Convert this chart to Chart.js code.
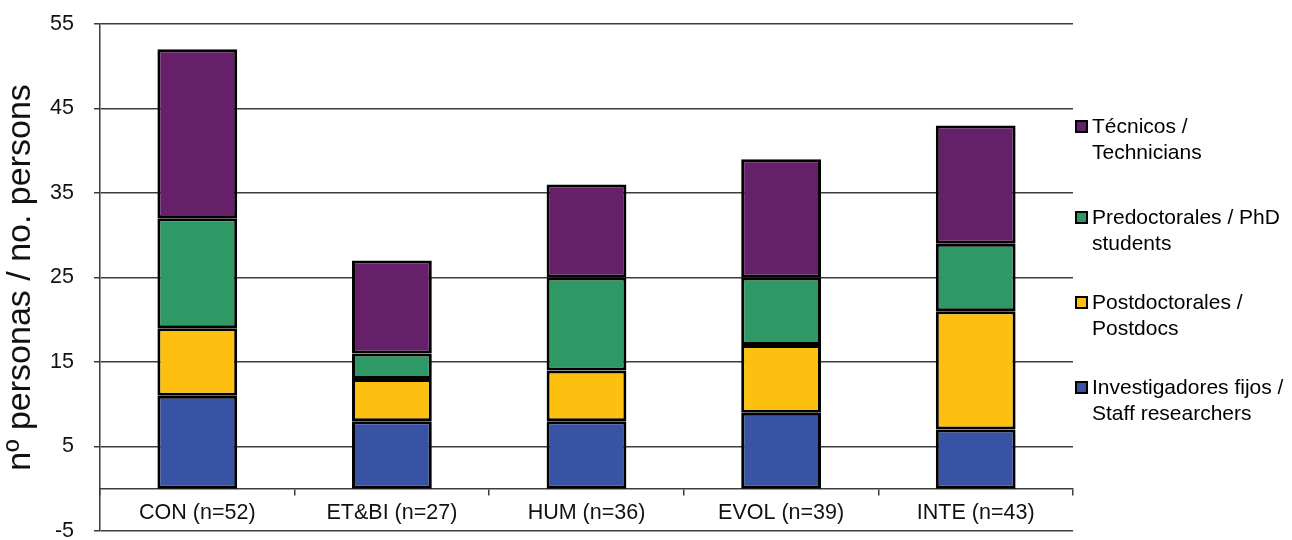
<!DOCTYPE html>
<html>
<head>
<meta charset="utf-8">
<script src="https://cdn.jsdelivr.net/npm/chart.js@4"></script>
<style>
  body { margin: 0; background: #fff; }
  #chartRoot { position: relative; width: 1292px; height: 540px; }
  #legend { position: absolute; left: 1075px; top: 0; font-family: "Liberation Sans", Arial, sans-serif; font-size: 21px; color: #000; }
  .item { position: absolute; left: 0; width: 217px; line-height: 26px; white-space: nowrap; }
  .box { position: absolute; left: 0; top: 7px; width: 9px; height: 9px; border: 2px solid #000; }
  .txt { position: absolute; left: 17px; top: 0; }
</style>
</head>
<body>
<div id="chartRoot">
  <canvas id="myChart"></canvas>
  <div id="legend"></div>
</div>
<script>
// categories and series
const labels = ['CON (n=52)', 'ET&BI (n=27)', 'HUM (n=36)', 'EVOL (n=39)', 'INTE (n=43)'];
const staff = [11, 8, 8, 9, 7];
const postdocs = [8, 5, 6, 8, 14];
const phd = [13, 3, 11, 8, 8];
const tech = [20, 11, 11, 14, 14];
const yTicks = [-5, 5, 15, 25, 35, 45, 55];

const seriesNames = [
	['Investigadores fijos /', 'Staff researchers'],
	['Postdoctorales /', 'Postdocs'],
	['Predoctorales / PhD', 'students'],
	['Técnicos /', 'Technicians']
];
const seriesColors = ['#3953a4', '#fdc010', '#2f9966', '#66206a'];
const seriesData = [staff, postdocs, phd, tech];

const font = "'Liberation Sans', Arial, sans-serif";
const gridColor = '#3c3c3c';

const datasets = seriesData.map((d, i) => ({
	label: seriesNames[i].join(' '),
	data: d,
	backgroundColor: seriesColors[i],
	borderColor: '#000',
	borderWidth: 3,
	borderSkipped: false,
	barPercentage: 0.41,
	categoryPercentage: 1
}));

// drop the automatic label padding so layout.padding sets the plot box
const noPad = axis => {
	axis.paddingTop = 0;
	axis.paddingBottom = 0;
};

const ctx = document.getElementById('myChart');
const myChart = new Chart(ctx, {
	type: 'bar',
	data: { labels: labels, datasets: datasets },
	options: {
		responsive: true,
		maintainAspectRatio: false,
		animation: false,
		layout: { padding: { top: 24, right: 219, bottom: 9, left: 0 } },
		scales: {
			x: {
				stacked: true,
				position: { y: 0 },
				afterFit: noPad,
				grid: { offset: true, drawOnChartArea: false, drawTicks: true, tickLength: 6, color: gridColor, lineWidth: 1.5 },
				border: { display: true, color: gridColor, width: 1.5 },
				ticks: { color: '#111', font: { family: font, size: 21.5 }, padding: 5, maxRotation: 0 }
			},
			y: {
				stacked: true,
				min: -5,
				max: 55,
				afterBuildTicks: axis => { axis.ticks = yTicks.map(v => ({ value: v })); },
				afterFit: axis => { axis.width = 100; noPad(axis); },
				grid: { color: gridColor, lineWidth: 1.5, tickLength: 6 },
				border: { display: true, color: gridColor, width: 1.5 },
				ticks: { color: '#111', font: { family: font, size: 21.5 }, padding: 20 },
				title: { display: true, text: 'nº personas / no. persons', color: '#111', font: { family: font, size: 34 }, padding: { top: 0, bottom: 0 } }
			}
		},
		plugins: {
			legend: { display: false },
			tooltip: { enabled: false }
		}
	}
});

// legend, top item is the last series
const legendRoot = document.getElementById('legend');
const legendTops = [374, 289, 204, 113];
for (let i = seriesNames.length - 1; i >= 0; i--) {
	const item = document.createElement('div');
	item.className = 'item';
	item.style.top = legendTops[i] + 'px';
	const box = document.createElement('span');
	box.className = 'box';
	box.style.background = seriesColors[i];
	const txt = document.createElement('span');
	txt.className = 'txt';
	txt.innerHTML = seriesNames[i][0] + '<br>' + seriesNames[i][1];
	item.appendChild(box);
	item.appendChild(txt);
	legendRoot.appendChild(item);
}
</script>
</body>
</html>
